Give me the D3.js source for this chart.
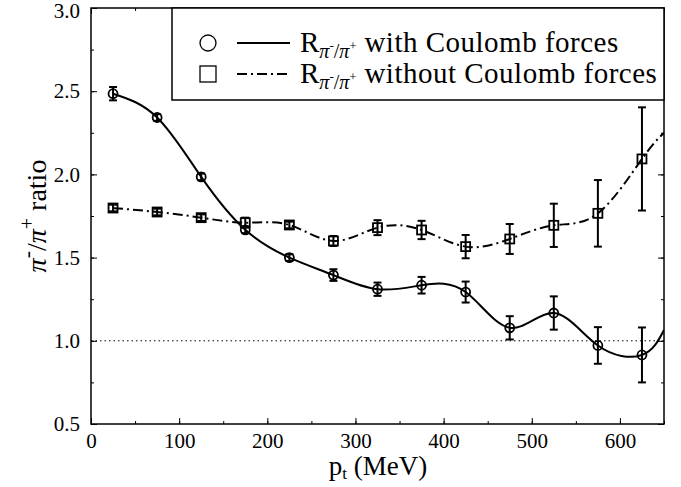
<!DOCTYPE html>
<html><head><meta charset="utf-8">
<script src="https://cdn.jsdelivr.net/npm/d3@7"></script>
<style>body{margin:0;background:#fff}svg{display:block}text{font-family:"Liberation Serif","DejaVu Serif",serif;fill:#000}</style>
</head><body>
<svg id="c" width="681" height="487"></svg>
<script>
const ptX = [25, 75, 125, 175, 225, 275, 325, 375, 425, 475, 525, 575, 625];
const withC = [2.485, 2.342, 1.985, 1.667, 1.500, 1.395, 1.310, 1.334, 1.293, 1.078, 1.167, 0.972, 0.915];
const withCErr = [0.04, 0.02, 0.02, 0.02, 0.02, 0.035, 0.04, 0.05, 0.063, 0.07, 0.10, 0.11, 0.165];
const withoutC = [1.798, 1.774, 1.740, 1.710, 1.696, 1.600, 1.680, 1.666, 1.566, 1.612, 1.694, 1.766, 2.093];
const withoutCErr = [0.02, 0.02, 0.02, 0.03, 0.02, 0.03, 0.045, 0.055, 0.07, 0.09, 0.13, 0.20, 0.31];
// curve extrapolated ends at the right frame (x = 650)
const curveEndX = 650;
const withCEnd = 1.065;
const withoutCEnd = 2.25;
const xTicks = [0, 100, 200, 300, 400, 500, 600];
const yTicks = [0.5, 1.0, 1.5, 2.0, 2.5, 3.0];

const svg = d3.select("#c");
const L = 91, R = 664, T = 8, B = 424;
const x = d3.scaleLinear().domain([0, 650]).range([L, R]);
const y = d3.scaleLinear().domain([0.5, 3.0]).range([B, T]);

// dotted reference line
svg.append("line").attr("x1", x(0)).attr("x2", x(650)).attr("y1", y(1)).attr("y2", y(1))
  .attr("stroke", "#000").attr("stroke-width", 1).attr("stroke-dasharray", "1.5,3");

// axes with inward ticks
const xMinor = d3.range(0, 651, 50);
const yMinor = d3.range(0.5, 3.001, 0.25);
function axisG(axis, tr) { return svg.append("g").attr("transform", tr).call(axis); }
axisG(d3.axisBottom(x).tickValues(xMinor).tickSize(-3).tickFormat(""), `translate(0,${B})`);
axisG(d3.axisBottom(x).tickValues(xTicks).tickSize(-6).tickPadding(9).tickFormat(d3.format("d")), `translate(0,${B})`);
axisG(d3.axisTop(x).tickValues(xMinor).tickSize(-3).tickFormat(""), `translate(0,${T})`);
axisG(d3.axisTop(x).tickValues(xTicks).tickSize(-6).tickFormat(""), `translate(0,${T})`);
axisG(d3.axisLeft(y).tickValues(yMinor).tickSize(-3).tickFormat(""), `translate(${L},0)`);
const ly2 = axisG(d3.axisLeft(y).tickValues(yTicks).tickSize(-6).tickPadding(11).tickFormat(d3.format(".1f")), `translate(${L},0)`);
axisG(d3.axisRight(y).tickValues(yMinor).tickSize(-3).tickFormat(""), `translate(${R},0)`);
axisG(d3.axisRight(y).tickValues(yTicks).tickSize(-6).tickFormat(""), `translate(${R},0)`);
svg.selectAll(".domain").remove();
svg.selectAll(".tick line").attr("stroke", "#000").attr("stroke-width", 1);
svg.selectAll(".tick text").attr("font-size", 21).attr("font-family", '"Liberation Serif",serif').attr("fill", "#000");
ly2.selectAll(".tick text").filter(d => d === 3.0).attr("dy", "0.45em");

// frame
svg.append("rect").attr("x", L).attr("y", T).attr("width", R - L).attr("height", B - T)
  .attr("fill", "none").attr("stroke", "#000").attr("stroke-width", 1.5);

svg.append("clipPath").attr("id", "pc").append("rect")
  .attr("x", L).attr("y", T).attr("width", R - L).attr("height", B - T);

const line = d3.line().x(d => x(d[0])).y(d => y(d[1])).curve(d3.curveNatural);
const ptsA = ptX.map((v, i) => [v, withC[i]]).concat([[curveEndX, withCEnd]]);
const ptsB = ptX.map((v, i) => [v, withoutC[i]]).concat([[curveEndX, withoutCEnd]]);
svg.append("path").attr("d", line(ptsA)).attr("fill", "none").attr("stroke", "#000")
  .attr("stroke-width", 2).attr("clip-path", "url(#pc)");
svg.append("path").attr("d", line(ptsB)).attr("fill", "none").attr("stroke", "#000")
  .attr("stroke-width", 2).attr("stroke-dasharray", "10,4,2,4").attr("clip-path", "url(#pc)");

function errBars(vals, errs) {
  const g = svg.append("g").attr("stroke", "#000").attr("stroke-width", 2);
  ptX.forEach((xv, i) => {
    const cx = x(xv), y0 = y(vals[i] - errs[i]), y1 = y(vals[i] + errs[i]);
    g.append("line").attr("x1", cx).attr("x2", cx).attr("y1", y0).attr("y2", y1);
    g.append("line").attr("x1", cx - 4).attr("x2", cx + 4).attr("y1", y0).attr("y2", y0);
    g.append("line").attr("x1", cx - 4).attr("x2", cx + 4).attr("y1", y1).attr("y2", y1);
  });
}
errBars(withC, withCErr);
errBars(withoutC, withoutCErr);

svg.append("g").selectAll("circle").data(ptX).join("circle")
  .attr("cx", d => x(d)).attr("cy", (d, i) => y(withC[i])).attr("r", 4.5)
  .attr("fill", "none").attr("stroke", "#000").attr("stroke-width", 1.8);
svg.append("g").selectAll("rect").data(ptX).join("rect")
  .attr("x", d => x(d) - 4.5).attr("y", (d, i) => y(withoutC[i]) - 4.5).attr("width", 9).attr("height", 9)
  .attr("fill", "none").attr("stroke", "#000").attr("stroke-width", 1.8);

// legend
const lg = svg.append("g");
lg.append("rect").attr("x", 172).attr("y", T).attr("width", R - 172).attr("height", 100 - T)
  .attr("fill", "#fff").attr("stroke", "#000").attr("stroke-width", 1.5);
lg.append("circle").attr("cx", 208).attr("cy", 43).attr("r", 8).attr("fill", "none").attr("stroke", "#000").attr("stroke-width", 1.3);
lg.append("rect").attr("x", 200).attr("y", 66).attr("width", 16).attr("height", 16).attr("fill", "none").attr("stroke", "#000").attr("stroke-width", 1.3);
lg.append("line").attr("x1", 237).attr("x2", 290).attr("y1", 43).attr("y2", 43).attr("stroke", "#000").attr("stroke-width", 2);
lg.append("line").attr("x1", 237).attr("x2", 290).attr("y1", 74).attr("y2", 74).attr("stroke", "#000").attr("stroke-width", 2).attr("stroke-dasharray", "10,4,2,4");
const legLabels = ["with Coulomb forces", "without Coulomb forces"];
function rLabel(sel, rest) {
  sel.append("tspan").text("R");
  sel.append("tspan").attr("dy", 6).attr("font-size", 20).attr("font-style", "italic").text("π");
  sel.append("tspan").attr("dy", -8).attr("font-size", 13).text("-");
  sel.append("tspan").attr("dy", 8).attr("font-size", 20).text("/");
  sel.append("tspan").attr("font-size", 20).attr("font-style", "italic").text("π");
  sel.append("tspan").attr("dy", -8).attr("font-size", 13).text("+");
  sel.append("tspan").attr("dy", 2).attr("letter-spacing", 0.5).text(" " + rest);
}
legLabels.forEach((t, i) => {
  const tt = lg.append("text").attr("x", 300).attr("y", 52 + i * 31).attr("font-size", 29);
  rLabel(tt, t);
});

// axis titles
svg.append("text").attr("x", 378).attr("y", 475).attr("text-anchor", "middle").attr("font-size", 27)
  .call(s => { s.append("tspan").text("p"); s.append("tspan").attr("dy", 4).attr("font-size", 17).text("t");
    s.append("tspan").attr("dy", -4).text(" (MeV)"); });
svg.append("text").attr("transform", "translate(46,216) rotate(-90)").attr("text-anchor", "middle").attr("font-size", 28)
  .call(s => { s.append("tspan").attr("font-style", "italic").text("π");
    s.append("tspan").attr("dy", -12).attr("font-size", 22).text("-");
    s.append("tspan").attr("dy", 12).text("/");
    s.append("tspan").attr("font-style", "italic").text("π");
    s.append("tspan").attr("dy", -12).attr("font-size", 20).text("+");
    s.append("tspan").attr("dy", 12).text(" ratio"); });
</script>
</body></html>
